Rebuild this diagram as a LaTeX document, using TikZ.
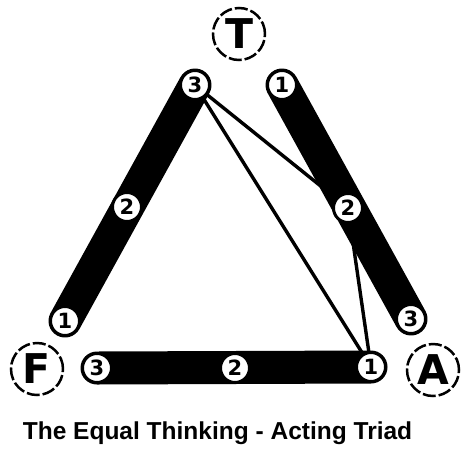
\documentclass[tikz,border=0pt]{standalone}
\usepackage{fontspec}
\setmainfont{Liberation Sans}
\newfontfamily\heavyfont{DejaVu Sans}
\usetikzlibrary{backgrounds}
\tikzset{
  numnode/.style={circle,draw=black,fill=white,line width=3pt,minimum size=29pt,inner sep=0pt,
    font=\heavyfont\fontsize{21}{21}\selectfont\bfseries},
  letternode/.style={circle,draw=black,fill=white,line width=2.5pt,minimum size=52pt,inner sep=0pt,
    dash pattern=on 13pt off 3pt,font=\heavyfont\fontsize{41}{41}\selectfont\bfseries},
  bar/.style={line width=33pt,line cap=round,draw=black},
  thin/.style={line width=3.4pt,draw=black},
}
\begin{document}
\begin{tikzpicture}[x=1pt,y=-1pt]
\useasboundingbox (0,0) rectangle (462,455);
% letter circles
\node[letternode] (T) at (239,34) {T};
\node[letternode] (F) at (37,369) {F};
\node[letternode] (A) at (433,370) {A};
% numbered nodes
\node[numnode] (L1) at (65,321) {1};
\node[numnode] (L2) at (127,207) {2};
\node[numnode] (L3) at (195,85) {3};
\node[numnode] (R1) at (282,85) {1};
\node[numnode] (R2) at (348,208) {2};
\node[numnode] (R3) at (411,319) {3};
\node[numnode] (B3) at (97,368) {3};
\node[numnode] (B2) at (235,368) {2};
\node[numnode] (B1) at (371,367) {1};
\begin{scope}[on background layer]
\draw[bar] (L1.center) -- (L3.center);
\draw[bar] (R1.center) -- (R3.center);
\draw[bar] (B3.center) -- (B1.center);
\draw[thin] (L3.center) -- (R2.center);
\draw[thin] (L3.center) -- (B1.center);
\draw[thin] (R2.center) -- (B1.center);
\end{scope}
\node[anchor=base,font=\fontsize{24.5}{24.5}\selectfont\bfseries] (title) at (217.5,439) {The Equal Thinking - Acting Triad};
\end{tikzpicture}
\end{document}
